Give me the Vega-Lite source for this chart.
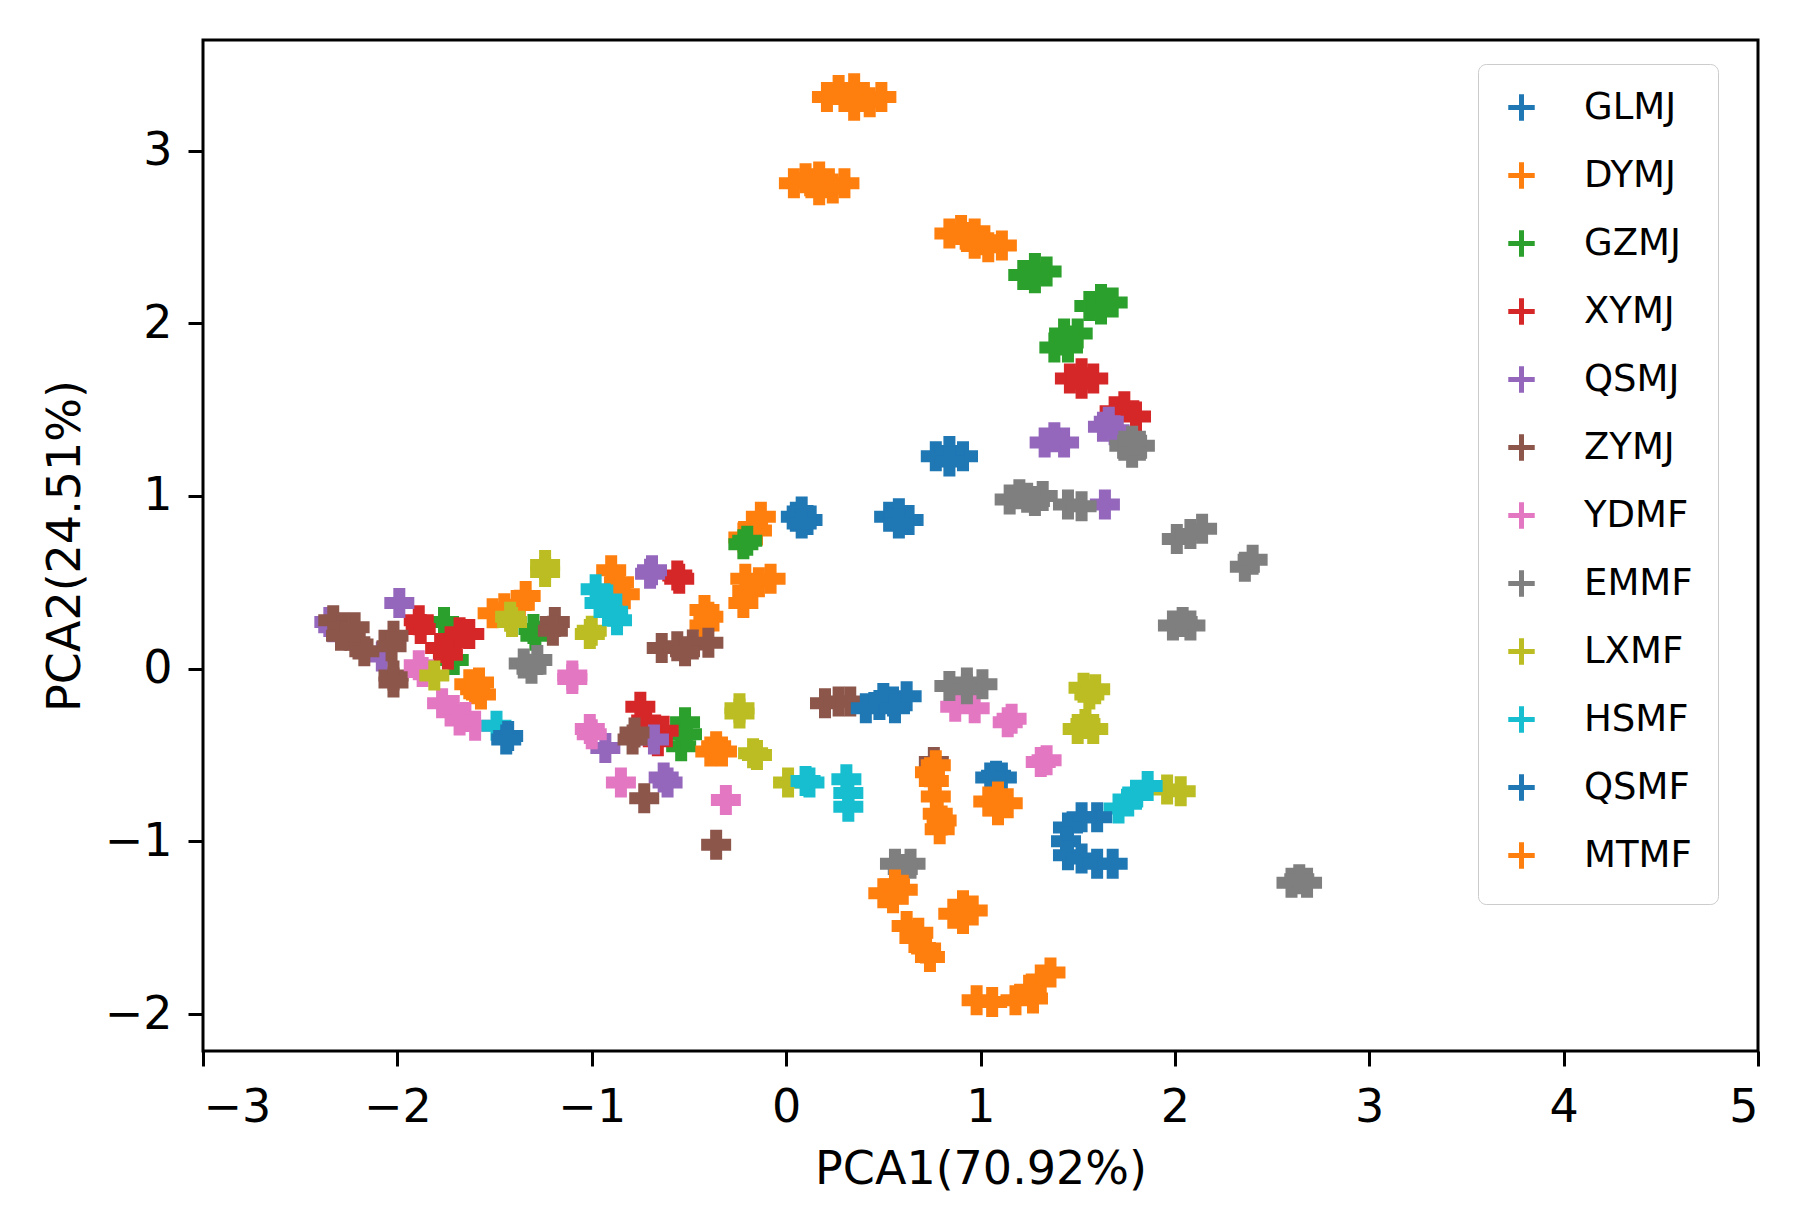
{
  "$schema": "https://vega.github.io/schema/vega-lite/v6.json",
  "width": 1555,
  "height": 1011,
  "autosize": {"type": "none"},
  "padding": {"left": 203, "top": 40, "right": 54, "bottom": 179},
  "background": "white",
  "config": {
    "font": "DejaVu Sans",
    "view": {"stroke": "black", "strokeWidth": 3},
    "axis": {"grid": false, "domain": false, "tickSize": 15, "tickWidth": 3, "tickColor": "black", "labelFontSize": 46, "labelColor": "black", "titleFontSize": 46, "titleFontWeight": "normal", "titleColor": "black"}
  },
  "data": {"values": [
    {"g":"GLMJ","x":0.77,"y":1.23},{"g":"GLMJ","x":0.91,"y":1.23},{"g":"GLMJ","x":0.84,"y":1.26},{"g":"GLMJ","x":0.84,"y":1.20},
    {"g":"GLMJ","x":0.05,"y":0.88},{"g":"GLMJ","x":0.11,"y":0.86},{"g":"GLMJ","x":0.08,"y":0.91},{"g":"GLMJ","x":0.08,"y":0.84},
    {"g":"GLMJ","x":0.53,"y":0.88},{"g":"GLMJ","x":0.63,"y":0.86},{"g":"GLMJ","x":0.58,"y":0.90},{"g":"GLMJ","x":0.58,"y":0.84},
    {"g":"DYMJ","x":0.21,"y":3.31},{"g":"DYMJ","x":0.30,"y":3.31},{"g":"DYMJ","x":0.40,"y":3.31},{"g":"DYMJ","x":0.49,"y":3.31},{"g":"DYMJ","x":0.27,"y":3.35},{"g":"DYMJ","x":0.43,"y":3.28},{"g":"DYMJ","x":0.35,"y":3.36},{"g":"DYMJ","x":0.35,"y":3.26},
    {"g":"DYMJ","x":0.04,"y":2.81},{"g":"DYMJ","x":0.13,"y":2.81},{"g":"DYMJ","x":0.22,"y":2.81},{"g":"DYMJ","x":0.30,"y":2.81},{"g":"DYMJ","x":0.10,"y":2.84},{"g":"DYMJ","x":0.24,"y":2.78},{"g":"DYMJ","x":0.17,"y":2.85},{"g":"DYMJ","x":0.17,"y":2.77},
    {"g":"DYMJ","x":0.84,"y":2.52},{"g":"DYMJ","x":0.93,"y":2.50},{"g":"DYMJ","x":1.02,"y":2.48},{"g":"DYMJ","x":1.11,"y":2.45},{"g":"DYMJ","x":0.90,"y":2.54},{"g":"DYMJ","x":1.04,"y":2.44},{"g":"DYMJ","x":0.97,"y":2.52},{"g":"DYMJ","x":0.97,"y":2.46},
    {"g":"DYMJ","x":-0.22,"y":0.76},{"g":"DYMJ","x":-0.17,"y":0.82},{"g":"DYMJ","x":-0.13,"y":0.88},{"g":"DYMJ","x":-0.15,"y":0.80},
    {"g":"DYMJ","x":-0.21,"y":0.52},{"g":"DYMJ","x":-0.08,"y":0.52},{"g":"DYMJ","x":-0.14,"y":0.50},{"g":"DYMJ","x":-0.22,"y":0.38},{"g":"DYMJ","x":-0.20,"y":0.45},
    {"g":"DYMJ","x":-0.42,"y":0.34},{"g":"DYMJ","x":-0.42,"y":0.25},{"g":"DYMJ","x":-0.40,"y":0.30},
    {"g":"DYMJ","x":-0.90,"y":0.57},{"g":"DYMJ","x":-0.86,"y":0.50},{"g":"DYMJ","x":-0.83,"y":0.43},
    {"g":"DYMJ","x":-1.51,"y":0.32},{"g":"DYMJ","x":-1.45,"y":0.35},{"g":"DYMJ","x":-1.34,"y":0.42},{"g":"DYMJ","x":-1.37,"y":0.37},
    {"g":"DYMJ","x":-1.63,"y":-0.09},{"g":"DYMJ","x":-1.57,"y":-0.15},{"g":"DYMJ","x":-1.60,"y":-0.12},{"g":"DYMJ","x":-1.58,"y":-0.08},
    {"g":"GZMJ","x":1.22,"y":2.28},{"g":"GZMJ","x":1.34,"y":2.30},{"g":"GZMJ","x":1.28,"y":2.32},{"g":"GZMJ","x":1.28,"y":2.26},
    {"g":"GZMJ","x":1.56,"y":2.10},{"g":"GZMJ","x":1.68,"y":2.12},{"g":"GZMJ","x":1.62,"y":2.14},{"g":"GZMJ","x":1.62,"y":2.08},
    {"g":"GZMJ","x":1.38,"y":1.86},{"g":"GZMJ","x":1.44,"y":1.90},{"g":"GZMJ","x":1.50,"y":1.94},{"g":"GZMJ","x":1.43,"y":1.94},{"g":"GZMJ","x":1.45,"y":1.86},
    {"g":"GZMJ","x":-0.22,"y":0.72},{"g":"GZMJ","x":-0.20,"y":0.74},
    {"g":"GZMJ","x":-1.30,"y":0.23},{"g":"GZMJ","x":-1.29,"y":0.19},
    {"g":"GZMJ","x":-1.76,"y":0.27},{"g":"GZMJ","x":-1.71,"y":0.05},
    {"g":"GZMJ","x":-0.52,"y":-0.31},{"g":"GZMJ","x":-0.54,"y":-0.45},{"g":"GZMJ","x":-0.51,"y":-0.38},
    {"g":"XYMJ","x":1.46,"y":1.68},{"g":"XYMJ","x":1.58,"y":1.68},{"g":"XYMJ","x":1.52,"y":1.71},{"g":"XYMJ","x":1.52,"y":1.65},
    {"g":"XYMJ","x":1.69,"y":1.49},{"g":"XYMJ","x":1.80,"y":1.46},{"g":"XYMJ","x":1.74,"y":1.52},
    {"g":"XYMJ","x":-0.56,"y":0.54},{"g":"XYMJ","x":-0.55,"y":0.52},
    {"g":"XYMJ","x":-1.89,"y":0.28},{"g":"XYMJ","x":-1.88,"y":0.23},
    {"g":"XYMJ","x":-1.78,"y":0.12},{"g":"XYMJ","x":-1.70,"y":0.15},{"g":"XYMJ","x":-1.63,"y":0.20},{"g":"XYMJ","x":-1.74,"y":0.08},{"g":"XYMJ","x":-1.68,"y":0.21},
    {"g":"XYMJ","x":-0.75,"y":-0.22},{"g":"XYMJ","x":-0.72,"y":-0.30},{"g":"XYMJ","x":-0.63,"y":-0.36},{"g":"XYMJ","x":-0.66,"y":-0.42},
    {"g":"QSMJ","x":1.33,"y":1.31},{"g":"QSMJ","x":1.43,"y":1.31},{"g":"QSMJ","x":1.38,"y":1.34},
    {"g":"QSMJ","x":1.63,"y":1.40},{"g":"QSMJ","x":1.69,"y":1.38},{"g":"QSMJ","x":1.66,"y":1.43},
    {"g":"QSMJ","x":1.64,"y":0.95},
    {"g":"QSMJ","x":-0.69,"y":0.57},{"g":"QSMJ","x":-0.70,"y":0.55},
    {"g":"QSMJ","x":-1.99,"y":0.38},
    {"g":"QSMJ","x":-2.35,"y":0.27},{"g":"QSMJ","x":-2.33,"y":0.24},
    {"g":"QSMJ","x":-2.08,"y":0.07},
    {"g":"QSMJ","x":-0.93,"y":-0.46},{"g":"QSMJ","x":-0.68,"y":-0.41},
    {"g":"QSMJ","x":-0.61,"y":-0.66},{"g":"QSMJ","x":-0.63,"y":-0.63},
    {"g":"ZYMJ","x":-2.33,"y":0.28},{"g":"ZYMJ","x":-2.28,"y":0.24},{"g":"ZYMJ","x":-2.24,"y":0.19},{"g":"ZYMJ","x":-2.20,"y":0.14},{"g":"ZYMJ","x":-2.17,"y":0.10},{"g":"ZYMJ","x":-2.29,"y":0.19},{"g":"ZYMJ","x":-2.22,"y":0.24},
    {"g":"ZYMJ","x":-2.02,"y":0.19},{"g":"ZYMJ","x":-2.03,"y":0.13},
    {"g":"ZYMJ","x":-2.02,"y":-0.04},{"g":"ZYMJ","x":-2.02,"y":-0.08},
    {"g":"ZYMJ","x":-1.19,"y":0.27},{"g":"ZYMJ","x":-1.20,"y":0.22},
    {"g":"ZYMJ","x":-0.64,"y":0.12},{"g":"ZYMJ","x":-0.56,"y":0.13},{"g":"ZYMJ","x":-0.48,"y":0.14},{"g":"ZYMJ","x":-0.40,"y":0.15},{"g":"ZYMJ","x":-0.52,"y":0.10},
    {"g":"ZYMJ","x":-0.79,"y":-0.41},{"g":"ZYMJ","x":-0.78,"y":-0.37},
    {"g":"ZYMJ","x":-0.73,"y":-0.75},
    {"g":"ZYMJ","x":-0.36,"y":-1.02},
    {"g":"ZYMJ","x":0.20,"y":-0.20},{"g":"ZYMJ","x":0.27,"y":-0.19},{"g":"ZYMJ","x":0.33,"y":-0.19},
    {"g":"ZYMJ","x":0.76,"y":-0.54},
    {"g":"YDMF","x":-1.89,"y":0.02},{"g":"YDMF","x":-1.87,"y":-0.02},
    {"g":"YDMF","x":-1.77,"y":-0.20},{"g":"YDMF","x":-1.71,"y":-0.24},{"g":"YDMF","x":-1.65,"y":-0.28},{"g":"YDMF","x":-1.60,"y":-0.33},{"g":"YDMF","x":-1.68,"y":-0.30},
    {"g":"YDMF","x":-1.10,"y":-0.04},{"g":"YDMF","x":-1.10,"y":-0.06},
    {"g":"YDMF","x":-1.01,"y":-0.35},{"g":"YDMF","x":-1.00,"y":-0.38},
    {"g":"YDMF","x":-0.85,"y":-0.66},
    {"g":"YDMF","x":-0.31,"y":-0.76},
    {"g":"YDMF","x":0.87,"y":-0.22},{"g":"YDMF","x":0.97,"y":-0.23},
    {"g":"YDMF","x":1.14,"y":-0.31},{"g":"YDMF","x":1.16,"y":-0.29},
    {"g":"YDMF","x":1.34,"y":-0.53},{"g":"YDMF","x":1.31,"y":-0.54},
    {"g":"EMMF","x":1.74,"y":1.29},{"g":"EMMF","x":1.82,"y":1.29},{"g":"EMMF","x":1.78,"y":1.25},{"g":"EMMF","x":1.78,"y":1.32},
    {"g":"EMMF","x":1.15,"y":0.98},{"g":"EMMF","x":1.24,"y":0.99},{"g":"EMMF","x":1.32,"y":1.00},{"g":"EMMF","x":1.20,"y":1.01},{"g":"EMMF","x":1.28,"y":0.97},
    {"g":"EMMF","x":1.45,"y":0.95},{"g":"EMMF","x":1.52,"y":0.94},
    {"g":"EMMF","x":2.01,"y":0.75},{"g":"EMMF","x":2.08,"y":0.78},{"g":"EMMF","x":2.14,"y":0.81},
    {"g":"EMMF","x":2.36,"y":0.59},{"g":"EMMF","x":2.40,"y":0.63},
    {"g":"EMMF","x":1.99,"y":0.25},{"g":"EMMF","x":2.08,"y":0.25},{"g":"EMMF","x":2.04,"y":0.27},
    {"g":"EMMF","x":0.84,"y":-0.10},{"g":"EMMF","x":0.93,"y":-0.08},{"g":"EMMF","x":1.01,"y":-0.09},{"g":"EMMF","x":0.93,"y":-0.12},
    {"g":"EMMF","x":0.56,"y":-1.13},{"g":"EMMF","x":0.64,"y":-1.13},{"g":"EMMF","x":0.60,"y":-1.16},
    {"g":"EMMF","x":2.60,"y":-1.24},{"g":"EMMF","x":2.68,"y":-1.24},{"g":"EMMF","x":2.64,"y":-1.22},
    {"g":"EMMF","x":-1.35,"y":0.03},{"g":"EMMF","x":-1.28,"y":0.05},{"g":"EMMF","x":-1.31,"y":0.00},
    {"g":"LXMF","x":-1.24,"y":0.60},{"g":"LXMF","x":-1.24,"y":0.56},
    {"g":"LXMF","x":-1.42,"y":0.30},{"g":"LXMF","x":-1.41,"y":0.27},
    {"g":"LXMF","x":-1.81,"y":-0.04},
    {"g":"LXMF","x":-1.00,"y":0.22},{"g":"LXMF","x":-1.01,"y":0.20},
    {"g":"LXMF","x":-0.24,"y":-0.23},{"g":"LXMF","x":-0.24,"y":-0.26},
    {"g":"LXMF","x":-0.17,"y":-0.49},{"g":"LXMF","x":-0.15,"y":-0.50},
    {"g":"LXMF","x":0.01,"y":-0.66},
    {"g":"LXMF","x":1.53,"y":-0.11},{"g":"LXMF","x":1.59,"y":-0.12},{"g":"LXMF","x":1.56,"y":-0.15},
    {"g":"LXMF","x":1.50,"y":-0.35},{"g":"LXMF","x":1.58,"y":-0.35},{"g":"LXMF","x":1.54,"y":-0.32},
    {"g":"LXMF","x":1.96,"y":-0.70},{"g":"LXMF","x":2.03,"y":-0.71},
    {"g":"HSMF","x":-0.98,"y":0.46},{"g":"HSMF","x":-0.96,"y":0.38},{"g":"HSMF","x":-0.87,"y":0.28},{"g":"HSMF","x":-0.92,"y":0.40},{"g":"HSMF","x":-0.89,"y":0.33},
    {"g":"HSMF","x":-1.49,"y":-0.33},
    {"g":"HSMF","x":0.10,"y":-0.65},{"g":"HSMF","x":0.12,"y":-0.66},
    {"g":"HSMF","x":0.31,"y":-0.64},{"g":"HSMF","x":0.32,"y":-0.72},{"g":"HSMF","x":0.32,"y":-0.80},
    {"g":"HSMF","x":1.71,"y":-0.81},{"g":"HSMF","x":1.76,"y":-0.77},{"g":"HSMF","x":1.80,"y":-0.73},{"g":"HSMF","x":1.86,"y":-0.68},
    {"g":"QSMF","x":-1.43,"y":-0.39},{"g":"QSMF","x":-1.44,"y":-0.41},
    {"g":"QSMF","x":0.41,"y":-0.23},{"g":"QSMF","x":0.48,"y":-0.21},{"g":"QSMF","x":0.55,"y":-0.19},{"g":"QSMF","x":0.62,"y":-0.16},{"g":"QSMF","x":0.50,"y":-0.17},{"g":"QSMF","x":0.56,"y":-0.23},
    {"g":"QSMF","x":1.08,"y":-0.62},{"g":"QSMF","x":1.11,"y":-0.63},{"g":"QSMF","x":1.05,"y":-0.63},
    {"g":"QSMF","x":1.60,"y":-0.86},{"g":"QSMF","x":1.52,"y":-0.86},{"g":"QSMF","x":1.45,"y":-0.92},{"g":"QSMF","x":1.44,"y":-1.00},{"g":"QSMF","x":1.45,"y":-1.08},{"g":"QSMF","x":1.52,"y":-1.10},{"g":"QSMF","x":1.60,"y":-1.13},{"g":"QSMF","x":1.68,"y":-1.13},
    {"g":"MTMF","x":0.77,"y":-0.56},{"g":"MTMF","x":0.76,"y":-0.65},{"g":"MTMF","x":0.77,"y":-0.74},{"g":"MTMF","x":0.78,"y":-0.84},{"g":"MTMF","x":0.79,"y":-0.93},{"g":"MTMF","x":0.80,"y":-0.88},{"g":"MTMF","x":0.74,"y":-0.60},
    {"g":"MTMF","x":1.04,"y":-0.77},{"g":"MTMF","x":1.14,"y":-0.78},{"g":"MTMF","x":1.09,"y":-0.74},{"g":"MTMF","x":1.09,"y":-0.82},
    {"g":"MTMF","x":0.50,"y":-1.30},{"g":"MTMF","x":0.60,"y":-1.28},{"g":"MTMF","x":0.56,"y":-1.25},{"g":"MTMF","x":0.55,"y":-1.33},
    {"g":"MTMF","x":0.86,"y":-1.42},{"g":"MTMF","x":0.96,"y":-1.40},{"g":"MTMF","x":0.91,"y":-1.37},{"g":"MTMF","x":0.91,"y":-1.45},
    {"g":"MTMF","x":0.62,"y":-1.49},{"g":"MTMF","x":0.68,"y":-1.53},{"g":"MTMF","x":0.72,"y":-1.62},{"g":"MTMF","x":0.74,"y":-1.67},{"g":"MTMF","x":0.66,"y":-1.56},
    {"g":"MTMF","x":0.98,"y":-1.92},{"g":"MTMF","x":1.06,"y":-1.93},{"g":"MTMF","x":1.18,"y":-1.92},{"g":"MTMF","x":1.27,"y":-1.91},{"g":"MTMF","x":1.31,"y":-1.80},{"g":"MTMF","x":1.36,"y":-1.76},{"g":"MTMF","x":1.25,"y":-1.86},
    {"g":"MTMF","x":-0.39,"y":-0.48},{"g":"MTMF","x":-0.33,"y":-0.48},{"g":"MTMF","x":-0.36,"y":-0.45}
  ]},
  "mark": {"type": "point", "shape": "M-1,0L1,0M0,-1L0,1", "filled": false, "strokeWidth": 12, "size": 900, "opacity": 1, "strokeCap": "butt"},
  "encoding": {
    "x": {"field": "x", "type": "quantitative", "scale": {"domain": [-3, 5], "nice": false, "zero": false}, "axis": {"values": [-3, -2, -1, 0, 1, 2, 3, 4, 5], "format": "d", "title": "PCA1(70.92%)", "labelPadding": 19, "titlePadding": 17}},
    "y": {"field": "y", "type": "quantitative", "scale": {"domain": [-2.214, 3.64], "nice": false, "zero": false}, "axis": {"values": [-2, -1, 0, 1, 2, 3], "format": "d", "title": "PCA2(24.51%)", "labelPadding": 16, "titlePadding": 15}},
    "color": {
      "field": "g", "type": "nominal", "sort": null,
      "scale": {"domain": ["GLMJ","DYMJ","GZMJ","XYMJ","QSMJ","ZYMJ","YDMF","EMMF","LXMF","HSMF","QSMF","MTMF"],
                "range": ["#1f77b4","#ff7f0e","#2ca02c","#d62728","#9467bd","#8c564b","#e377c2","#7f7f7f","#bcbd22","#17becf","#1f77b4","#ff7f0e"]},
      "legend": {"title": null, "orient": "none", "legendX": 1275, "legendY": 24, "labelFontSize": 37, "labelColor": "black", "labelOffset": 44, "rowPadding": 21, "padding": 25, "strokeColor": "#cccccc", "fillColor": "white", "cornerRadius": 8, "symbolType": "M-1,0L1,0M0,-1L0,1", "symbolSize": 700, "symbolStrokeWidth": 5, "labelLimit": 0,
        "encode": {"legend": {"update": {"strokeWidth": {"value": 3}}}}}
    }
  }
}
